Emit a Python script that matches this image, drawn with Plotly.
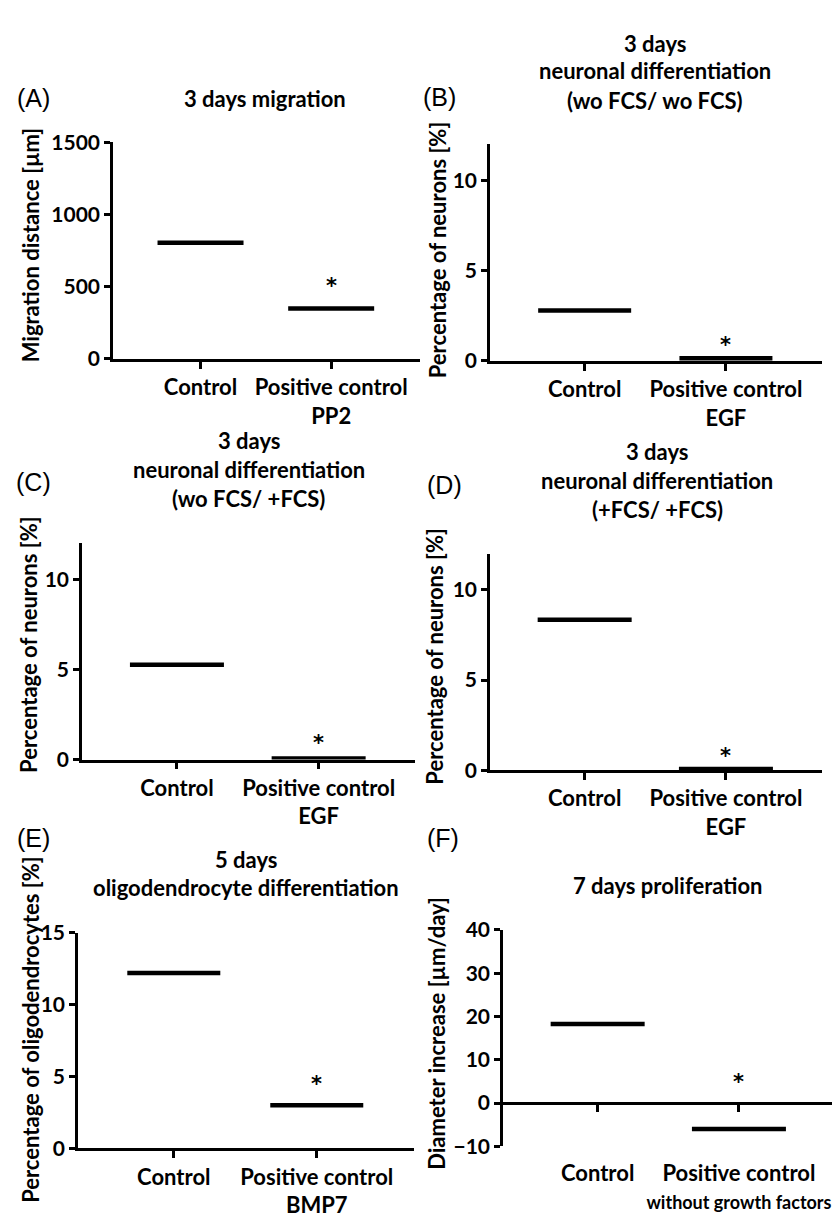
import plotly.graph_objects as go

W, H = 840, 1217

# ---------------- data ----------------
panel_letters = ["(A)", "(B)", "(C)", "(D)", "(E)", "(F)"]
titles = [
    ["3 days migration"],
    ["3 days", "neuronal differentiation", "(wo FCS/ wo FCS)"],
    ["3 days", "neuronal differentiation", "(wo FCS/ +FCS)"],
    ["3 days", "neuronal differentiation", "(+FCS/ +FCS)"],
    ["5 days", "oligodendrocyte differentiation"],
    ["7 days proliferation"],
]
y_titles = [
    "Migration distance [µm]",
    "Percentage of neurons [%]",
    "Percentage of neurons [%]",
    "Percentage of neurons [%]",
    "Percentage of oligodendrocytes [%]",
    "Diameter increase [µm/day]",
]
cats_A = ["Control", "Positive control<br>PP2"]
cats_B = ["Control", "Positive control<br>EGF"]
cats_C = ["Control", "Positive control<br>EGF"]
cats_D = ["Control", "Positive control<br>EGF"]
cats_E = ["Control", "Positive control<br>BMP7"]
cats_F = ["Control", "Positive control<br><span style='font-size:18px'>without growth factors</span>"]

vals_A = [805, 350]
vals_B = [2.8, 0.15]
vals_C = [5.25, 0.06]
vals_D = [8.35, 0.07]
vals_E = [12.2, 3.0]
vals_F = [18.3, -6.0]

y_ranges = [[0, 1500], [0, 12], [0, 12], [0, 12], [0, 15], [-10, 40]]
y_ticks = [[0, 500, 1000, 1500], [0, 5, 10], [0, 5, 10], [0, 5, 10], [0, 5, 10, 15], [-10, 0, 10, 20, 30, 40]]
significant = [True, True, True, True, True, True]

cats = [cats_A, cats_B, cats_C, cats_D, cats_E, cats_F]
vals = [vals_A, vals_B, vals_C, vals_D, vals_E, vals_F]

# ---------------- layout (pixels) ----------------
# plot area boxes: x0, x1, y_top, y_bottom
boxes = [
    (105, 412, 123, 344),
    (482, 814, 125, 346),
    (74, 407, 532, 753),
    (482, 814, 543, 764),
    (70, 406, 930, 1150),
    (495, 827, 927, 1148),
]
letter_pos = [(7, 78), (413, 77), (6, 470), (417, 473), (7, 833), (417, 833)]
title_pos = [(257, [78]), (647, [22, 50, 80]), (241, [427, 457, 487]),
             (649, [438, 468, 498]), (238, [855, 884]), (660, [882])]
ytitle_pos = [(22, 228), (429, 232), (21, 636), (427, 648), (23, 1029), (429, 1032)]
mean_width_px = [86, 93, 94, 94, 93, 94]
star_shift = [22, 13, 15, 13, 21, 21]
x_range = [-0.67, 1.68]

FONT = "Lato"
FS = 22


def px(x):
    return x / W


def py(y):
    return 1 - y / H


fig = go.Figure()
annotations = []

for i in range(6):
    n = i + 1
    xa = "x" if n == 1 else f"x{n}"
    ya = "y" if n == 1 else f"y{n}"
    x0, x1, yt, yb = boxes[i]
    fig.add_trace(go.Scatter(
        x=cats[i], y=vals[i], xaxis=xa, yaxis=ya, mode="markers",
        marker=dict(symbol="line-ew", size=mean_width_px[i] / 1.4,
                    line=dict(width=4.5, color="black"), color="black"),
        showlegend=False, hoverinfo="y",
    ))
    is_F = (i == 5)
    fig.layout[f"xaxis{'' if n == 1 else n}"] = dict(
        domain=[px(x0), px(x1)], anchor=ya, type="category",
        categoryarray=cats[i], range=x_range,
        showline=not is_F, linecolor="black", linewidth=2.5,
        ticks="outside", ticklen=7, tickwidth=2.5,
        tickcolor="rgba(0,0,0,0)" if is_F else "black",
        showgrid=False, zeroline=False,
        tickfont=dict(family=FONT, size=FS, color="black", weight="bold"),
        fixedrange=True,
    )
    fig.layout[f"yaxis{'' if n == 1 else n}"] = dict(
        domain=[py(yb), py(yt)], anchor=xa, range=y_ranges[i],
        tickvals=y_ticks[i], showline=True, linecolor="black", linewidth=2.5,
        ticks="outside", ticklen=6, tickwidth=2.5, tickcolor="black",
        showgrid=False, zeroline=is_F, zerolinecolor="black", zerolinewidth=2.5,
        tickfont=dict(family=FONT, size=21, color="black", weight="bold"),
        fixedrange=True,
    )

    # panel letter
    lx, ly = letter_pos[i]
    annotations.append(dict(x=px(lx), y=py(ly), xref="paper", yref="paper",
                            text=panel_letters[i], showarrow=False,
                            xanchor="left", yanchor="middle",
                            font=dict(family="Liberation Sans", size=25, color="black")))
    # title lines
    tx, tys = title_pos[i]
    for line, ty in zip(titles[i], tys):
        annotations.append(dict(x=px(tx), y=py(ty), xref="paper", yref="paper",
                                text=line, showarrow=False,
                                xanchor="center", yanchor="middle",
                                font=dict(family=FONT, size=FS, color="black", weight="bold")))
    # y title
    ax_, ay_ = ytitle_pos[i]
    annotations.append(dict(x=px(ax_), y=py(ay_), xref="paper", yref="paper",
                            text=y_titles[i], showarrow=False, textangle=-90,
                            xanchor="center", yanchor="middle",
                            font=dict(family=FONT, size=FS, color="black", weight="bold")))
    # significance asterisk
    if significant[i]:
        annotations.append(dict(x=cats[i][1], y=max(vals[i][1], 0), xref=xa, yref=ya,
                                text="*", showarrow=False, yshift=star_shift[i],
                                xanchor="center", yanchor="middle",
                                font=dict(family="DejaVu Sans", size=21, color="black", weight="bold")))

# extra x axis for panel F drawn at y = 0 (line + tick marks)
x0, x1, yt, yb = boxes[5]
zero_py = yb - (0 - y_ranges[5][0]) / (y_ranges[5][1] - y_ranges[5][0]) * (yb - yt)
fig.layout["xaxis7"] = dict(
    domain=[px(x0), px(x1)], overlaying="x6", anchor="free", position=py(zero_py),
    range=x_range, tickvals=[0, 1], showticklabels=False,
    showline=True, linecolor="black", linewidth=2.5,
    ticks="outside", ticklen=7, tickwidth=2.5, tickcolor="black",
    showgrid=False, zeroline=False, fixedrange=True,
)
fig.add_trace(go.Scatter(x=[None], y=[None], xaxis="x7", yaxis="y6",
                         showlegend=False, hoverinfo="skip"))

fig.update_layout(
    width=W, height=H, margin=dict(l=0, r=0, t=0, b=0),
    paper_bgcolor="white", plot_bgcolor="white",
    annotations=annotations, showlegend=False,
)

fig.write_html("out.html")
